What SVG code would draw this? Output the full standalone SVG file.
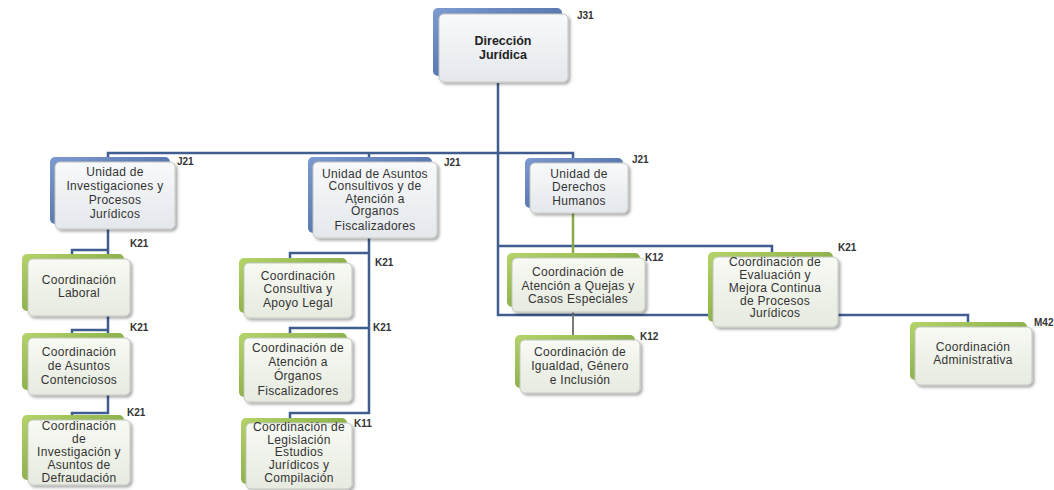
<svg xmlns="http://www.w3.org/2000/svg" width="1054" height="490" viewBox="0 0 1054 490">
<defs>
<linearGradient id="gb" x1="0" y1="0" x2="1" y2="1"><stop offset="0" stop-color="#7d9bd0"/><stop offset="1" stop-color="#3b5a94"/></linearGradient>
<linearGradient id="gg" x1="0" y1="0" x2="1" y2="1"><stop offset="0" stop-color="#b5d46a"/><stop offset="1" stop-color="#6a9330"/></linearGradient>
<linearGradient id="gf" x1="0" y1="0" x2="0" y2="1"><stop offset="0" stop-color="#f8f9fb"/><stop offset="1" stop-color="#e4e8ec"/></linearGradient>
<linearGradient id="gfg" x1="0" y1="0" x2="0" y2="1"><stop offset="0" stop-color="#f8faf4"/><stop offset="1" stop-color="#e6eadf"/></linearGradient>
<filter id="sh" x="-20%" y="-20%" width="140%" height="150%"><feGaussianBlur in="SourceAlpha" stdDeviation="1.5"/><feOffset dx="1.5" dy="2" result="o"/><feComponentTransfer><feFuncA type="linear" slope="0.35"/></feComponentTransfer><feMerge><feMergeNode/><feMergeNode in="SourceGraphic"/></feMerge></filter>
</defs>
<style>
.bk{fill:url(#gb)}
.gk{fill:url(#gg)}
.fr{fill:url(#gf);stroke:#c4c7c0;stroke-width:1;filter:url(#sh)}
.frg{fill:url(#gfg);stroke:#c4c7c0;stroke-width:1;filter:url(#sh)}
.t{font-family:"Liberation Sans",Arial,sans-serif;font-size:12px;letter-spacing:0.3px;fill:#333;text-anchor:middle}
.tb{font-family:"Liberation Sans",Arial,sans-serif;font-size:12.5px;font-weight:bold;fill:#222;text-anchor:middle}
.c{font-family:"Liberation Sans",Arial,sans-serif;font-size:10px;font-weight:bold;fill:#333}
.ln{fill:none;stroke:#3f5d8e;stroke-width:2.5}
.lg{fill:none;stroke:#8aa84a;stroke-width:2.5}
.ly{fill:none;stroke:#7a7a7a;stroke-width:2}
</style>
<g id="connectors">
<path class="ln" d="M498 83 V315 H968 V323"/>
<path class="ln" d="M108 158 V153 H573 V159"/>
<path class="ln" d="M369 153 V158"/>
<path class="ln" d="M498 246 H772 V253"/>
<path class="ln" d="M108 229 V413 H72 V417"/>
<path class="ln" d="M108 250 H72 V255"/>
<path class="ln" d="M108 330 H72 V334"/>
<path class="ln" d="M369 238 V413 H290 V419"/>
<path class="ln" d="M369 253 H290 V259"/>
<path class="ln" d="M369 328 H290 V334"/>
<path class="lg" d="M573 213 V254"/>
<path class="ly" d="M573 312 V336"/>
</g>
<g id="n-direccion">
<rect class="bk" x="433" y="8" width="129" height="68" rx="5"/>
<rect class="fr" x="439" y="14" width="129" height="68" rx="5"/>
<text class="tb" x="503" y="45">Dirección</text>
<text class="tb" x="503" y="59">Jurídica</text>
<text class="c" x="577" y="19">J31</text>
</g>
<g id="n-investigaciones">
<rect class="bk" x="50" y="157" width="120" height="67" rx="5"/>
<rect class="fr" x="55" y="162" width="120" height="67" rx="5"/>
<text class="t" x="115" y="176">Unidad de</text>
<text class="t" x="115" y="190">Investigaciones y</text>
<text class="t" x="115" y="204">Procesos</text>
<text class="t" x="115" y="218">Jurídicos</text>
<text class="c" x="177" y="165">J21</text>
</g>
<g id="n-consultivos">
<rect class="bk" x="308" y="157" width="124" height="76" rx="5"/>
<rect class="fr" x="313" y="162" width="124" height="76" rx="5"/>
<text class="t" x="375" y="178">Unidad de Asuntos</text>
<text class="t" x="375" y="190">Consultivos y de</text>
<text class="t" x="375" y="203">Atención a</text>
<text class="t" x="375" y="215">Órganos</text>
<text class="t" x="375" y="230">Fiscalizadores</text>
<text class="c" x="444" y="166">J21</text>
</g>
<g id="n-derechos">
<rect class="bk" x="525" y="158" width="98" height="50" rx="5"/>
<rect class="fr" x="530" y="163" width="98" height="50" rx="5"/>
<text class="t" x="579" y="178">Unidad de</text>
<text class="t" x="579" y="191">Derechos</text>
<text class="t" x="579" y="205">Humanos</text>
<text class="c" x="632" y="163">J21</text>
</g>
<g id="n-laboral">
<rect class="gk" x="22" y="254" width="102" height="57" rx="5"/>
<rect class="frg" x="28" y="259" width="102" height="57" rx="5"/>
<text class="t" x="79" y="284">Coordinación</text>
<text class="t" x="79" y="297">Laboral</text>
<text class="c" x="130" y="247">K21</text>
</g>
<g id="n-contenciosos">
<rect class="gk" x="22" y="333" width="102" height="57" rx="5"/>
<rect class="frg" x="28" y="338" width="102" height="57" rx="5"/>
<text class="t" x="79" y="356">Coordinación</text>
<text class="t" x="79" y="370">de Asuntos</text>
<text class="t" x="79" y="384">Contenciosos</text>
<text class="c" x="130" y="331">K21</text>
</g>
<g id="n-defraudacion">
<rect class="gk" x="22" y="415" width="102" height="65" rx="5"/>
<rect class="frg" x="28" y="420" width="102" height="65" rx="5"/>
<text class="t" x="79" y="430">Coordinación</text>
<text class="t" x="79" y="443">de</text>
<text class="t" x="79" y="456">Investigación y</text>
<text class="t" x="79" y="469">Asuntos de</text>
<text class="t" x="79" y="482">Defraudación</text>
<text class="c" x="127" y="416">K21</text>
</g>
<g id="n-apoyo">
<rect class="gk" x="239" y="258" width="108" height="55" rx="5"/>
<rect class="frg" x="244" y="263" width="108" height="55" rx="5"/>
<text class="t" x="298" y="280">Coordinación</text>
<text class="t" x="298" y="293">Consultiva y</text>
<text class="t" x="298" y="307">Apoyo Legal</text>
<text class="c" x="375" y="266">K21</text>
</g>
<g id="n-organos">
<rect class="gk" x="239" y="333" width="108" height="64" rx="5"/>
<rect class="frg" x="244" y="338" width="108" height="64" rx="5"/>
<text class="t" x="298" y="352">Coordinación de</text>
<text class="t" x="298" y="366">Atención a</text>
<text class="t" x="298" y="380">Órganos</text>
<text class="t" x="298" y="395">Fiscalizadores</text>
<text class="c" x="373" y="331">K21</text>
</g>
<g id="n-legislacion">
<rect class="gk" x="241" y="418" width="106" height="66" rx="5"/>
<rect class="frg" x="246" y="423" width="106" height="66" rx="5"/>
<text class="t" x="299" y="431">Coordinación de</text>
<text class="t" x="299" y="444">Legislación</text>
<text class="t" x="299" y="456">Estudios</text>
<text class="t" x="299" y="469">Jurídicos y</text>
<text class="t" x="299" y="482">Compilación</text>
<text class="c" x="354" y="427">K11</text>
</g>
<g id="n-quejas">
<rect class="gk" x="507" y="253" width="133" height="54" rx="5"/>
<rect class="frg" x="512" y="258" width="133" height="54" rx="5"/>
<text class="t" x="578" y="276">Coordinación de</text>
<text class="t" x="578" y="290">Atención a Quejas y</text>
<text class="t" x="578" y="303">Casos Especiales</text>
<text class="c" x="645" y="261">K12</text>
</g>
<g id="n-igualdad">
<rect class="gk" x="515" y="335" width="120" height="53" rx="5"/>
<rect class="frg" x="520" y="340" width="120" height="53" rx="5"/>
<text class="t" x="580" y="356">Coordinación de</text>
<text class="t" x="580" y="370">Igualdad, Género</text>
<text class="t" x="580" y="384">e Inclusión</text>
<text class="c" x="640" y="340">K12</text>
</g>
<g id="n-evaluacion">
<rect class="gk" x="708" y="252" width="125" height="70" rx="5"/>
<rect class="frg" x="713" y="257" width="125" height="70" rx="5"/>
<text class="t" x="775" y="266">Coordinación de</text>
<text class="t" x="775" y="279">Evaluación y</text>
<text class="t" x="775" y="292">Mejora Continua</text>
<text class="t" x="775" y="305">de Procesos</text>
<text class="t" x="775" y="317">Jurídicos</text>
<text class="c" x="838" y="251">K21</text>
</g>
<g id="n-administrativa">
<rect class="gk" x="910" y="322" width="117" height="58" rx="5"/>
<rect class="frg" x="915" y="327" width="117" height="58" rx="5"/>
<text class="t" x="973" y="351">Coordinación</text>
<text class="t" x="973" y="364">Administrativa</text>
<text class="c" x="1034" y="326">M42</text>
</g>
</svg>
